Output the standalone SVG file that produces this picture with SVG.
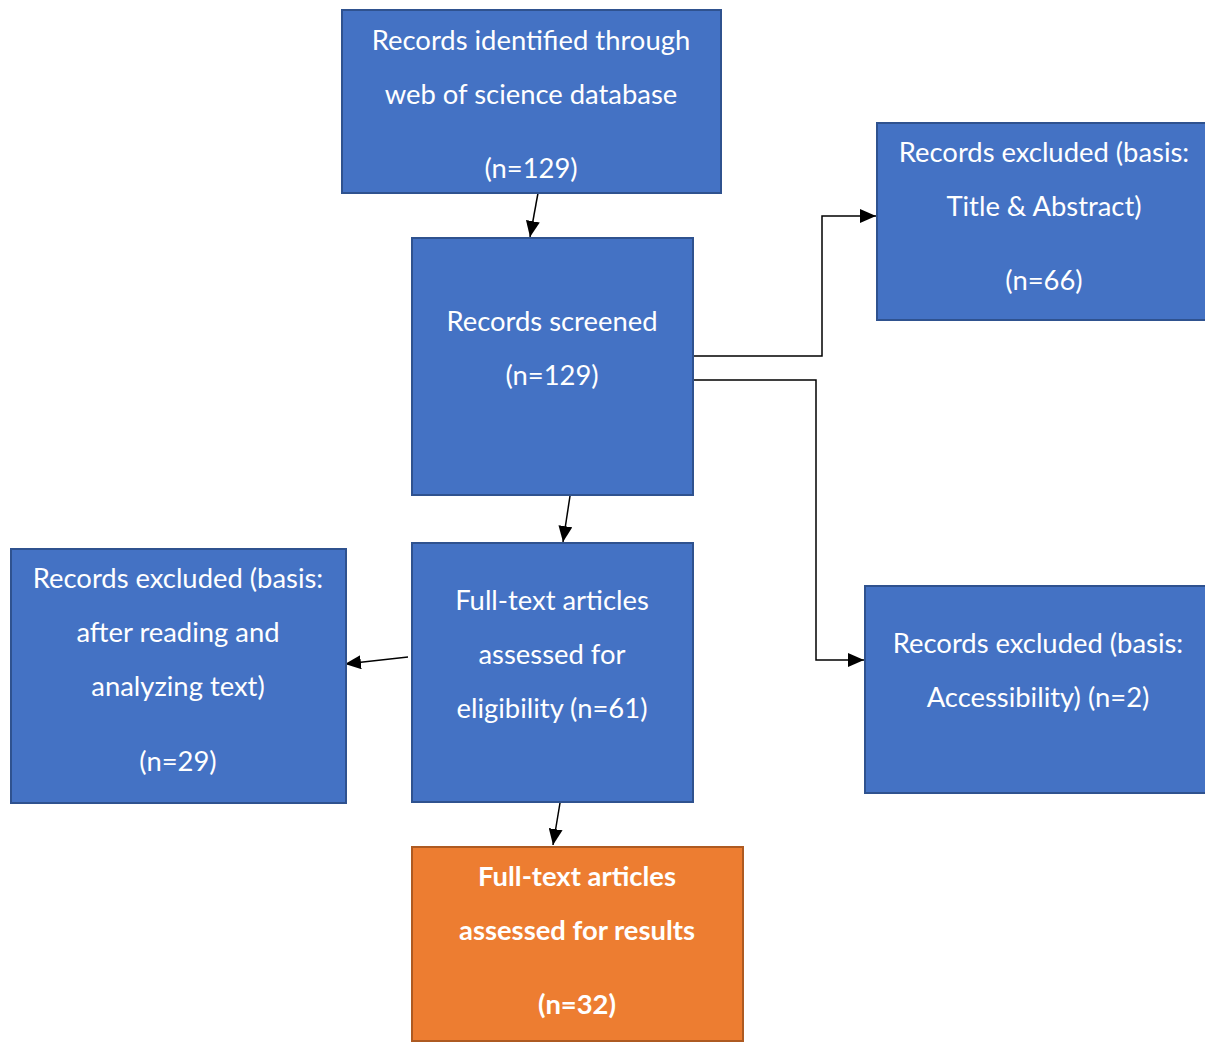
<svg xmlns="http://www.w3.org/2000/svg" width="1205" height="1042" viewBox="0 0 1205 1042">
<style>
.b{fill:#4472C4;stroke:#2F528F;stroke-width:2}
.o{fill:#ED7D31;stroke:#AE5A21;stroke-width:2}
text{font-family:Lato,"Open Sans","Liberation Sans",sans-serif;font-size:27.4px;fill:#fff;text-anchor:middle}
.bd{font-weight:bold}
.c{fill:none;stroke:#000;stroke-width:1.5}
</style>
<defs>
<marker id="ah2" viewBox="0 0 10 10" refX="10" refY="5" markerWidth="16" markerHeight="14" markerUnits="userSpaceOnUse" orient="auto" preserveAspectRatio="none">
<path d="M0,0L10,5L0,10z" fill="#000"/>
</marker>
</defs>
<rect width="1205" height="1042" fill="#fff"/>
<g id="connectors">
<line class="c" x1="538" y1="193" x2="530" y2="237" marker-end="url(#ah2)"/>
<line class="c" x1="570" y1="496" x2="563" y2="542" marker-end="url(#ah2)"/>
<line class="c" x1="408" y1="657" x2="345" y2="664" marker-end="url(#ah2)"/>
<line class="c" x1="560" y1="803" x2="553" y2="845" marker-end="url(#ah2)"/>
<polyline class="c" points="693,356 822,356 822,216 876,216" marker-end="url(#ah2)"/>
<polyline class="c" points="693,380 816,380 816,660 864,660" marker-end="url(#ah2)"/>
</g>
<g id="n1">
<rect class="b" x="342" y="10" width="379" height="183"/>
<text x="531" y="50">Records identified through</text>
<text x="531" y="104">web of science database</text>
<text x="531" y="178">(n=129)</text>
</g>
<g id="n2">
<rect class="b" x="412" y="238" width="281" height="257"/>
<text x="552" y="331">Records screened</text>
<text x="552" y="385">(n=129)</text>
</g>
<g id="n3">
<rect class="b" x="877" y="123" width="340" height="197"/>
<text x="1044" y="162">Records excluded (basis:</text>
<text x="1044" y="216">Title &amp; Abstract)</text>
<text x="1044" y="290">(n=66)</text>
</g>
<g id="n4">
<rect class="b" x="412" y="543" width="281" height="259"/>
<text x="552" y="610">Full-text articles</text>
<text x="552" y="664">assessed for</text>
<text x="552" y="718">eligibility (n=61)</text>
</g>
<g id="n5">
<rect class="b" x="11" y="549" width="335" height="254"/>
<text x="178" y="588">Records excluded (basis:</text>
<text x="178" y="642">after reading and</text>
<text x="178" y="696">analyzing text)</text>
<text x="178" y="771">(n=29)</text>
</g>
<g id="n6">
<rect class="b" x="865" y="586" width="352" height="207"/>
<text x="1038" y="653">Records excluded (basis:</text>
<text x="1038" y="707">Accessibility) (n=2)</text>
</g>
<g id="n7">
<rect class="o" x="412" y="847" width="331" height="194"/>
<text class="bd" x="577" y="886">Full-text articles</text>
<text class="bd" x="577" y="940">assessed for results</text>
<text class="bd" x="577" y="1014">(n=32)</text>
</g>
</svg>
